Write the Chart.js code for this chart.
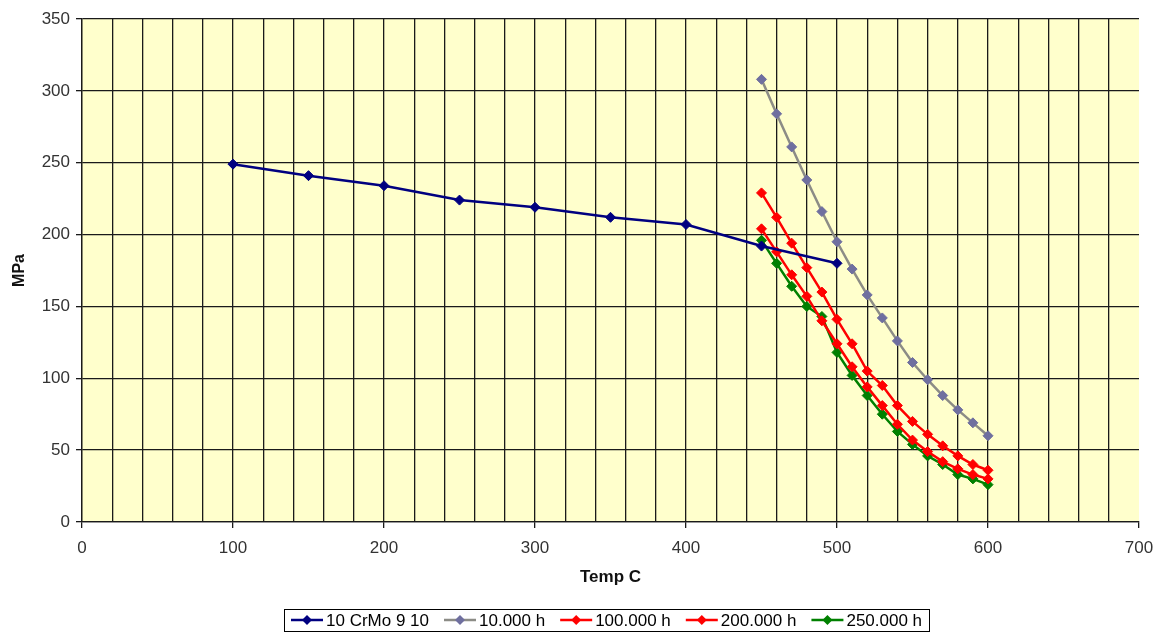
<!DOCTYPE html>
<html>
<head>
<meta charset="utf-8">
<script src="https://cdn.jsdelivr.net/npm/chart.js@4.4.1/dist/chart.umd.min.js"></script>
<style>
  html, body { margin: 0; background: #fff; }
</style>
</head>
<body>
<canvas id="chart" width="1157" height="633"></canvas>
<script>
// data
const seriesNames = ['10 CrMo 9 10', '10.000 h', '100.000 h', '200.000 h', '250.000 h'];
const tempsCrMo = [100, 150, 200, 250, 300, 350, 400, 450, 500];
const crMo = [249, 241, 234, 224, 219, 212, 207, 192, 180];
const tempsCreep = [450, 460, 470, 480, 490, 500, 510, 520, 530, 540, 550, 560, 570, 580, 590, 600];
const h10000 = [308, 284, 261, 238, 216, 195, 176, 158, 142, 126, 111, 99, 88, 78, 69, 60];
const h100000 = [229, 212, 194, 177, 160, 141, 124, 105, 95, 81, 70, 61, 53, 46, 40, 36];
const h200000 = [204, 188, 172, 157, 140, 124, 108, 94, 81, 68, 57, 49, 42, 37, 33, 30];
const h250000 = [196, 180, 164, 150, 143, 118, 102, 88, 75, 63, 54, 46, 40, 33, 30, 26];
const xLabels = [0, 100, 200, 300, 400, 500, 600, 700];

const lineColors = ['#000080', '#8c8c86', '#ff0000', '#ff0000', '#008000'];
const markColors = ['#000080', '#6f6f9f', '#ff0000', '#ff0000', '#008000'];

const pairs = (xs, ys) => ys.map((y, i) => ({ x: xs[i], y }));
const allData = [
  pairs(tempsCrMo, crMo),
  pairs(tempsCreep, h10000),
  pairs(tempsCreep, h100000),
  pairs(tempsCreep, h200000),
  pairs(tempsCreep, h250000)
];

const font = 'Liberation Sans, Arial, sans-serif';
const gridColor = '#1a1a1a';

const plotBg = {
  id: 'plotBg',
  beforeDraw(chart) {
    const { ctx, chartArea: a } = chart;
    ctx.save();
    ctx.fillStyle = '#ffffcc';
    ctx.fillRect(a.left, a.top, a.right - a.left, a.bottom - a.top);
    ctx.restore();
  }
};

// framed Excel-style legend under the plot: line + diamond, then the name
const legendBox = {
  id: 'legendBox',
  afterDraw(chart) {
    const ctx = chart.ctx;
    const iconW = 32, gapIcon = 3, gapItem = 15, pad = 7;
    ctx.save();
    ctx.font = '17px ' + font;
    const widths = seriesNames.map(n => ctx.measureText(n).width);
    const total = widths.reduce((a, b) => a + b, 0) +
      seriesNames.length * (iconW + gapIcon) + (seriesNames.length - 1) * gapItem;
    const a = chart.chartArea;
    const cx = (a.left + a.right) / 2 - 4;
    const cy = 620;
    let x = Math.round(cx - total / 2);
    ctx.strokeStyle = '#000';
    ctx.lineWidth = 1;
    ctx.strokeRect(x - pad + 0.5, 609.5, Math.round(total + 2 * pad), 22);
    ctx.textBaseline = 'middle';
    seriesNames.forEach((name, i) => {
      ctx.strokeStyle = lineColors[i];
      ctx.lineWidth = 2.5;
      ctx.beginPath(); ctx.moveTo(x, cy); ctx.lineTo(x + iconW, cy); ctx.stroke();
      const mx = x + iconW / 2;
      ctx.fillStyle = markColors[i];
      ctx.beginPath();
      ctx.moveTo(mx, cy - 5); ctx.lineTo(mx + 5, cy); ctx.lineTo(mx, cy + 5); ctx.lineTo(mx - 5, cy);
      ctx.closePath(); ctx.fill();
      x += iconW + gapIcon;
      ctx.fillStyle = '#000';
      ctx.fillText(name, x, cy + 1);
      x += widths[i] + gapItem;
    });
    ctx.restore();
  }
};

new Chart(document.getElementById('chart'), {
  type: 'line',
  data: {
    datasets: allData.map((d, i) => ({
      label: seriesNames[i],
      data: d,
      borderColor: lineColors[i],
      backgroundColor: markColors[i],
      pointBackgroundColor: markColors[i],
      pointBorderColor: markColors[i],
      borderWidth: 2.5,
      pointStyle: 'rectRot',
      pointRadius: 5,
      pointBorderWidth: 1,
      tension: 0
    }))
  },
  options: {
    responsive: false,
    animation: false,
    layout: { padding: { top: 19, right: 18, left: 0, bottom: 40 } },
    plugins: {
      tooltip: { enabled: false },
      legend: { display: false }
    },
    scales: {
      x: {
        type: 'linear',
        min: 0,
        max: 700,
        ticks: {
          stepSize: 20,
          autoSkip: false,
          maxRotation: 0,
          padding: 10,
          color: '#333',
          font: { family: font, size: 17 },
          callback: v => (xLabels.includes(v) ? v : '')
        },
        grid: {
          color: ctx => (ctx.tick && ctx.tick.value === 700 ? 'transparent' : gridColor),
          tickColor: ctx => (ctx.tick && xLabels.includes(ctx.tick.value) ? gridColor : 'transparent'),
          tickLength: 6,
          lineWidth: 1.3
        },
        border: { color: gridColor, width: 1.3 },
        title: {
          display: true,
          text: 'Temp C',
          color: '#111',
          font: { family: font, size: 17, weight: 'bold' },
          padding: { top: 0, bottom: 5 }
        },
        afterFit(s) { s.height = 71; s.paddingLeft = 0; s.paddingRight = 0; }
      },
      y: {
        min: 0,
        max: 350,
        ticks: {
          stepSize: 50,
          padding: 6,
          color: '#333',
          font: { family: font, size: 17 }
        },
        grid: { color: gridColor, tickColor: gridColor, tickLength: 6, lineWidth: 1.3 },
        border: { color: gridColor, width: 1.3 },
        title: {
          display: true,
          text: 'MPa',
          color: '#111',
          font: { family: font, size: 16, weight: 'bold' },
          padding: { top: 10, bottom: 0 }
        },
        afterFit(s) { s.width = 82; s.paddingTop = 0; s.paddingBottom = 0; }
      }
    }
  },
  plugins: [plotBg, legendBox]
});
</script>
</body>
</html>
